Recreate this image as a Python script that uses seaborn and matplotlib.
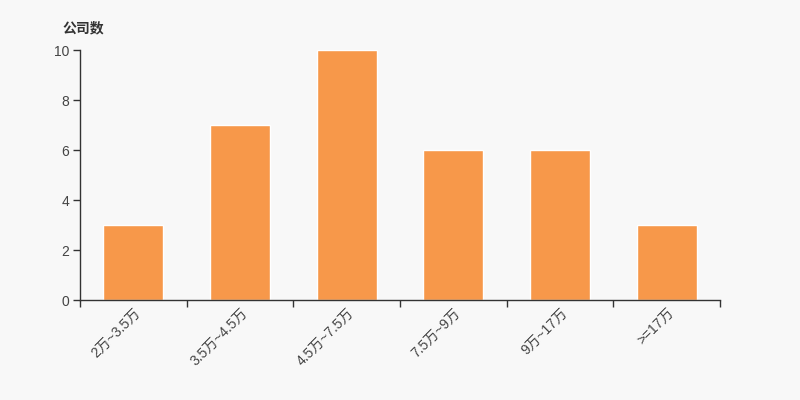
import matplotlib
matplotlib.use("Agg")
import matplotlib.pyplot as plt
import seaborn as sns
import pandas as pd
import numpy as np

categories = ["2万~3.5万", "3.5万~4.5万", "4.5万~7.5万", "7.5万~9万", "9万~17万", ">=17万"]
counts = [3, 7, 10, 6, 6, 3]
y_ticks = [0, 2, 4, 6, 8, 10]

sns.set_style("white")
plt.rcParams['font.family'] = ['Liberation Sans', 'Noto Sans CJK SC', 'DejaVu Sans']

df = pd.DataFrame({"cat": categories, "n": counts})

fig = plt.figure(figsize=(8, 4), dpi=100, facecolor="#f8f8f8")
ax = fig.add_axes([0.1, 0.25, 0.8, 0.625])
ax.set_facecolor("#f8f8f8")
sns.barplot(data=df, x="cat", y="n", color="#f7984a", saturation=1, width=0.5625, ax=ax)

ax.set_xlim(-0.5, len(categories) - 0.5)
ax.set_ylim(0, 10)
ax.set_yticks(y_ticks)
ax.set_xlabel("")
ax.set_ylabel("")

for s in ["top", "right"]:
    ax.spines[s].set_visible(False)
for s in ["left", "bottom"]:
    ax.spines[s].set_color("#333333")
    ax.spines[s].set_linewidth(1)

ax.set_xticks(np.arange(len(categories)))
ax.set_xticklabels(categories, rotation=45, ha="right", rotation_mode="anchor", color="#444444", fontsize=10)
ax.tick_params(axis="x", which="major", bottom=True, length=0, pad=4)
ax.set_xticks(np.arange(len(categories) + 1) - 0.5, minor=True)
ax.tick_params(axis="x", which="minor", bottom=True, length=5, color="#333333", width=1, direction="out")
ax.tick_params(axis="y", left=True, length=5, color="#333333", width=1, direction="out", labelcolor="#444444", labelsize=10, pad=3)

fig.text(0.0775, 0.92, "公司数", fontsize=10, fontweight="bold", color="#333333",
         family=['Noto Sans CJK SC', 'DejaVu Sans'])

fig.savefig("out.png", dpi=100, facecolor="#f8f8f8")
